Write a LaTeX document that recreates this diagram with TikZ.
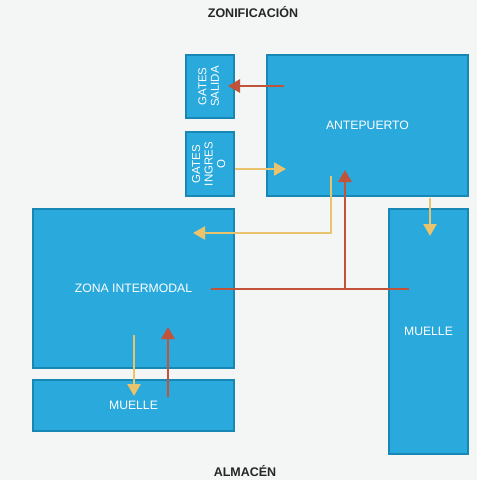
\documentclass[tikz,border=0pt]{standalone}
\usepackage{fontspec}
\setmainfont{Liberation Sans}
\usetikzlibrary{arrows.meta,positioning}
\definecolor{zonablue}{HTML}{29A9DC}
\definecolor{zonaedge}{HTML}{1787B5}
\definecolor{flowred}{HTML}{C2533B}
\definecolor{flowyellow}{HTML}{E9C46C}
\definecolor{bgpaper}{HTML}{F4F5F5}

\begin{document}
\begin{tikzpicture}[
        x=1pt, y=-1pt,
        zone/.style={rectangle, draw=zonaedge, line width=1.2pt, fill=zonablue,
                     text=white, font=\fontsize{12.2}{14}\selectfont,
                     inner sep=0pt, align=center},
        gate/.style={zone, font=\fontsize{11.5}{12.5}\selectfont},
        title/.style={font=\bfseries\fontsize{12.5}{14}\selectfont, text=black!85},
        redline/.style={draw=flowred, line width=2.8pt, -{Triangle[length=12pt,width=13pt]}},
        yellowline/.style={draw=flowyellow, line width=2.4pt, -{Triangle[length=12pt,width=13pt]}}
    ]
    \fill[bgpaper] (0,0) rectangle (477,480);
    \useasboundingbox (0,0) rectangle (477,480);

    \node [title] (zonif) at (253,12) {ZONIFICACIÓN};
    \node [title] (almacen) at (245,471) {ALMACÉN};

    \node [gate, minimum width=48, minimum height=63] (salida) at (210,86.5)
        {\rotatebox{90}{\begin{tabular}{@{}c@{}}GATES\\SALIDA\end{tabular}}};
    \node [gate, minimum width=48, minimum height=64] (ingreso) at (210,164)
        {\rotatebox{90}{\begin{tabular}{@{}c@{}}GATES\\INGRES\\O\end{tabular}}};
    \node [zone, minimum width=201, minimum height=141] (ante) at (367.5,125.5) {ANTEPUERTO};
    \node [zone, minimum width=201, minimum height=159] (inter) at (133.5,288.5) {ZONA INTERMODAL};
    \node [zone, minimum width=201, minimum height=51] (muelleA) at (133.5,405.5) {MUELLE};
    \node [zone, minimum width=79, minimum height=245] (muelleB) at (428.5,331.5) {MUELLE};

    % flow points
    \coordinate (redOut) at (284,86);
    \coordinate (redIn) at (228,86);
    \coordinate (yelIn) at (286,169);
    \coordinate (yelA) at (331,176);
    \coordinate (yelB) at (331,233);
    \coordinate (yelC) at (193,233);
    \coordinate (redL) at (211,289);
    \coordinate (redR) at (409,289);
    \coordinate (redJ) at (345,289);
    \coordinate (redUp) at (345,170);
    \coordinate (yelD) at (430,198);
    \coordinate (yelE) at (430,236);
    \coordinate (yelF) at (134,335);
    \coordinate (yelG) at (134,396);
    \coordinate (redG) at (168,397);
    \coordinate (redH) at (168,327);

    \draw [redline] (redOut) -- (redIn);
    \draw [yellowline] (ingreso.east |- yelIn) -- (yelIn);
    \draw [yellowline] (yelA) -- (yelB) -- (yelC);
    \draw [draw=flowred, line width=2.8pt] (redL) -- (redR);
    \draw [redline] (redJ) -- (redUp);
    \draw [yellowline] (yelD) -- (yelE);
    \draw [yellowline] (yelF) -- (yelG);
    \draw [redline] (redG) -- (redH);
\end{tikzpicture}
\end{document}
